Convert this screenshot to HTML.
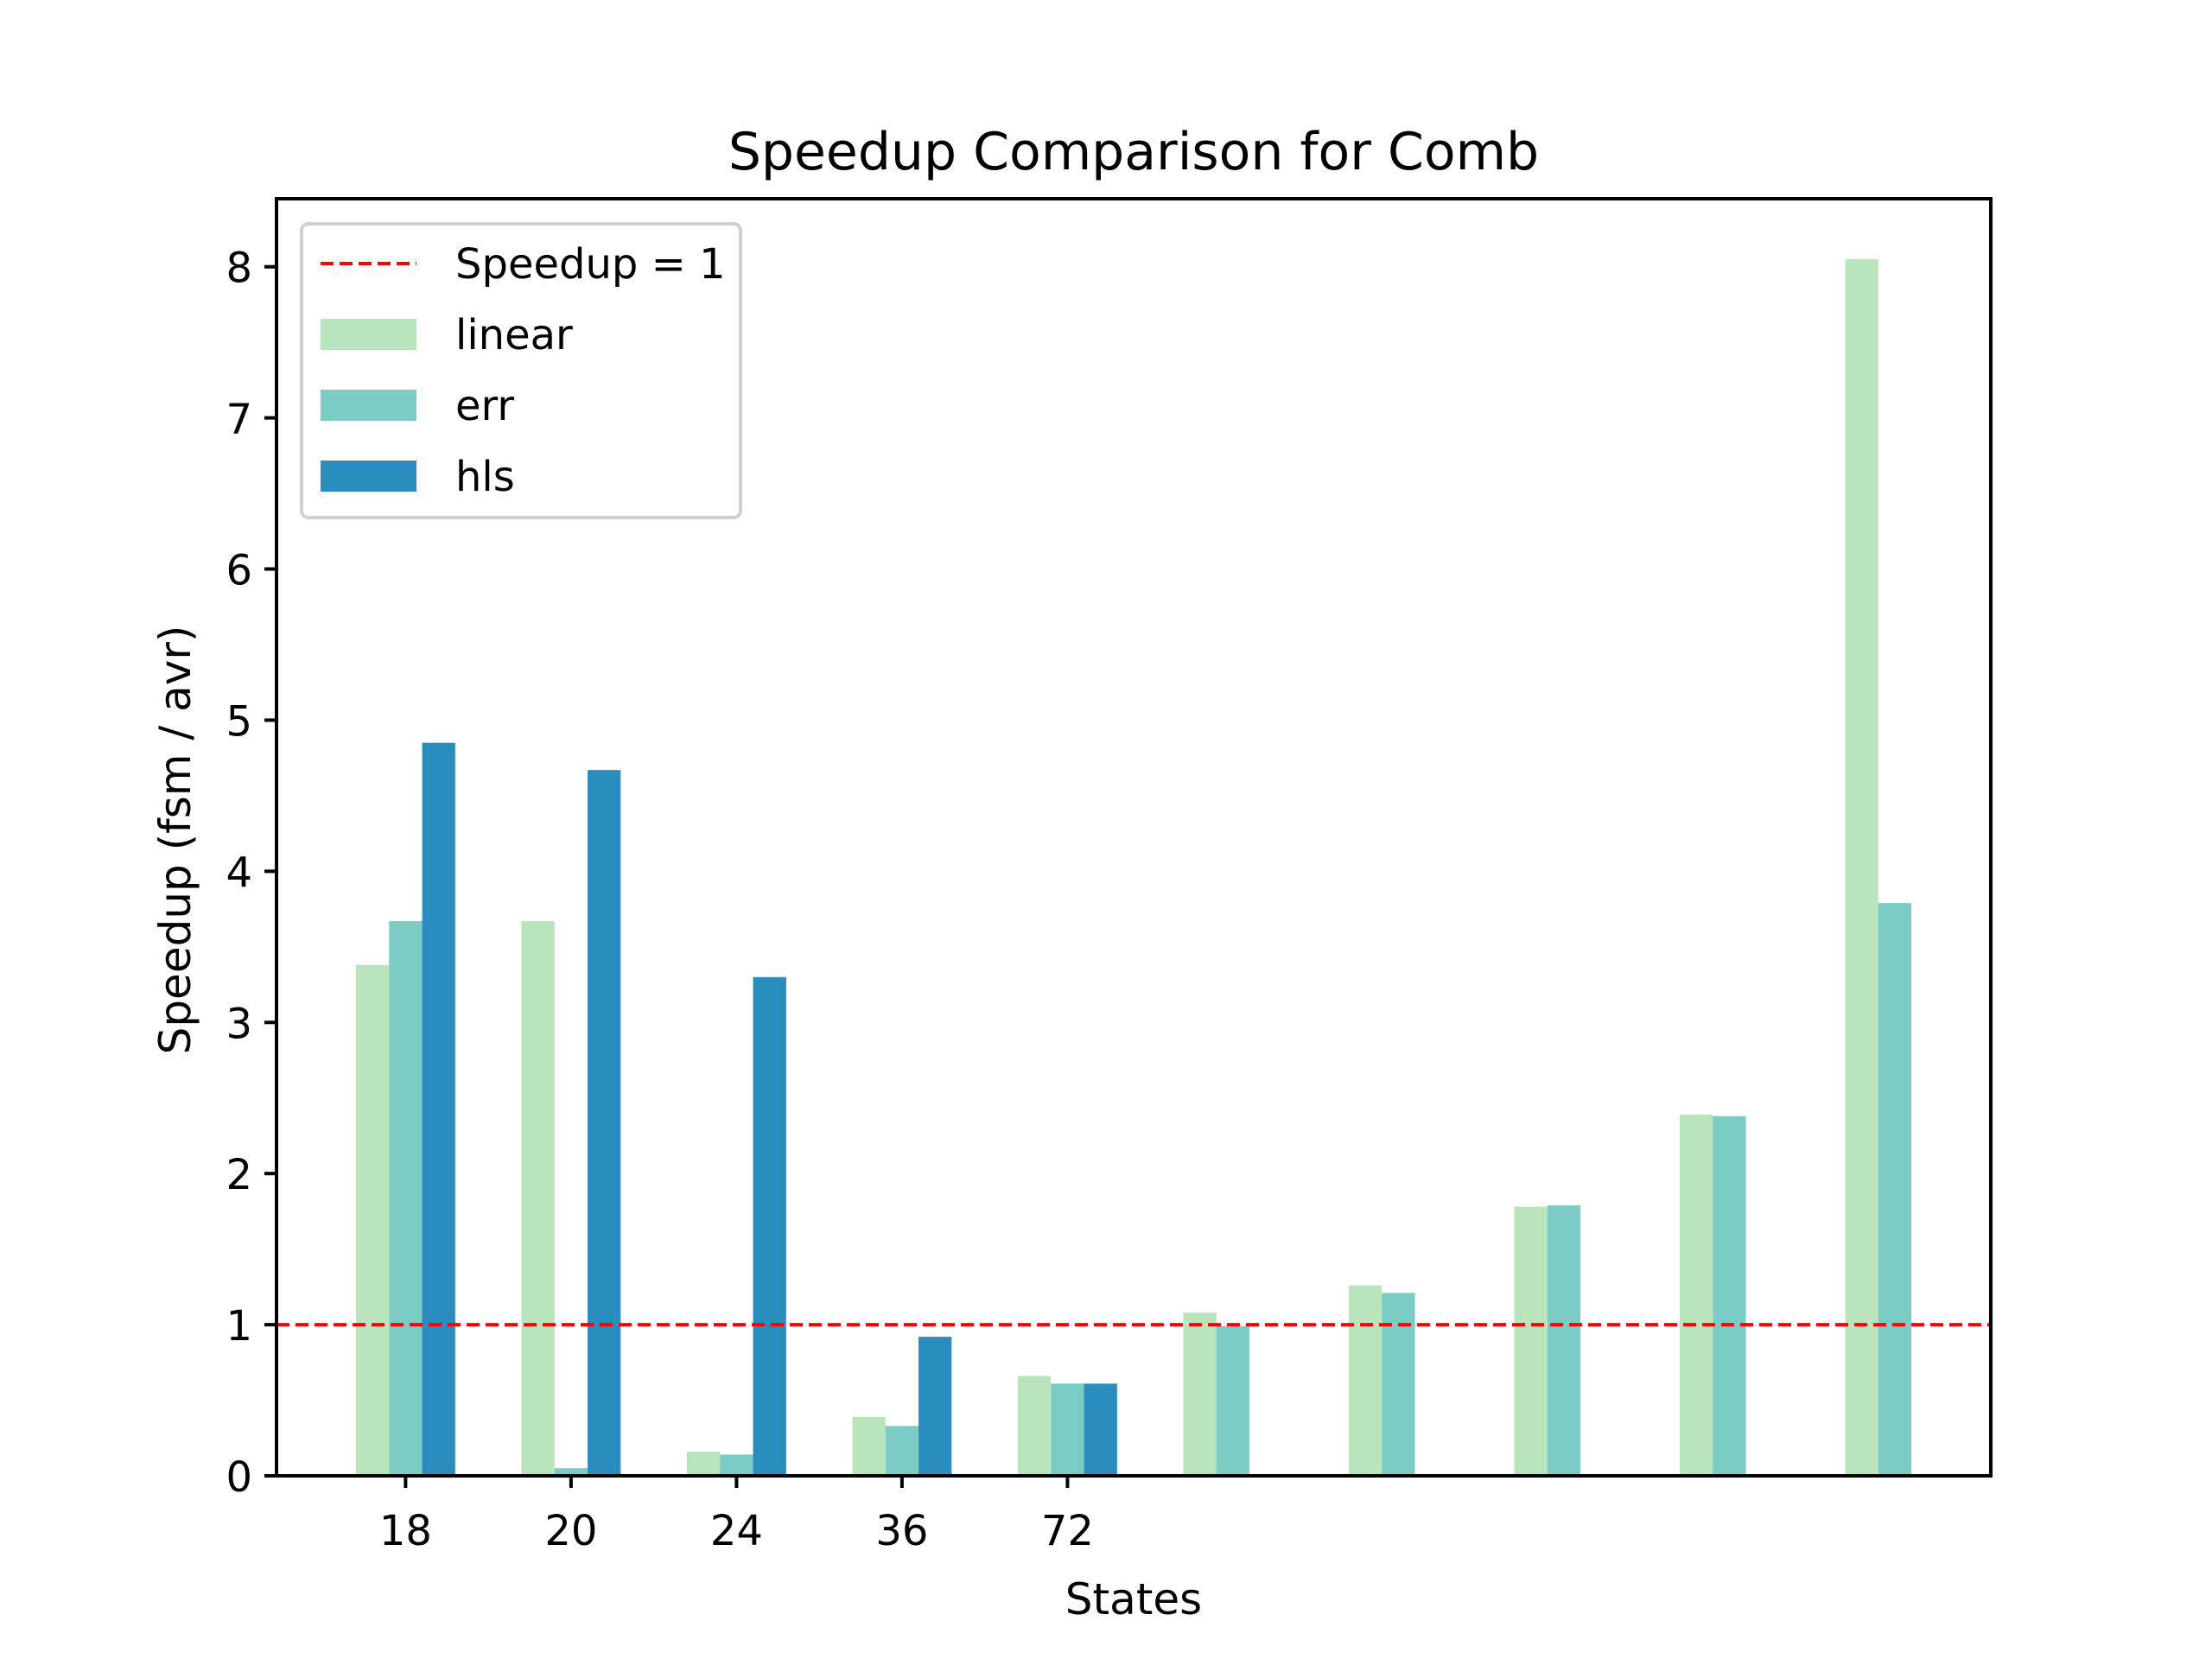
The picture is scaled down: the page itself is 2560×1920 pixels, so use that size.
<!DOCTYPE html>
<html><head><meta charset="utf-8"><style>
body{margin:0;background:#fff}
svg{display:block;font-family:"DejaVu Sans","Liberation Sans",sans-serif}
</style></head><body>
<svg id="chart" width="2560" height="1920" viewBox="0 0 2560 1920" xmlns="http://www.w3.org/2000/svg">
<rect width="2560" height="1920" fill="#fff"/>
<text x="1312" y="196" font-size="60" text-anchor="middle">Speedup Comparison for Comb</text>
<text x="1312" y="1868" font-size="50" text-anchor="middle">States</text>
<text x="0" y="0" font-size="50" text-anchor="middle" transform="translate(220,972) rotate(-90)">Speedup (fsm / avr)</text>
<g id="bars"></g>
<g id="ticks"></g>
<g id="legend"></g>
</svg>
<script>
const categories = ["18","20","24","36","72","","","","",""];
const linearVals = [3.38,3.67,0.16,0.39,0.66,1.08,1.26,1.78,2.39,8.05];
const errVals = [3.67,0.05,0.14,0.33,0.61,0.99,1.21,1.79,2.38,3.79];
const hlsVals = [4.85,4.67,3.30,0.92,0.61,null,null,null,null,null];
const yTicks = [0,1,2,3,4,5,6,7,8];
const refLine = 1;

const NS="http://www.w3.org/2000/svg";
const L=320,R=2304,T=230,B=1708;
const xMin=-0.78,xMax=9.58,yMax=8.45;
const xs=v=>L+(v-xMin)/(xMax-xMin)*(R-L);
const ys=v=>B-v/yMax*(B-T);
function mk(tag,attrs,parent){const e=document.createElementNS(NS,tag);for(const k in attrs)e.setAttribute(k,attrs[k]);parent.appendChild(e);return e;}
const bars=document.getElementById('bars'),ticks=document.getElementById('ticks'),leg=document.getElementById('legend');
const series=[{v:linearVals,c:"#bae4bc",o:-0.2,n:"linear"},{v:errVals,c:"#7bccc4",o:0,n:"err"},{v:hlsVals,c:"#2b8cbe",o:0.2,n:"hls"}];
const bw=0.2;
series.forEach(s=>{s.v.forEach((val,i)=>{if(val==null)return;
const x0=xs(i+s.o-bw/2),x1=xs(i+s.o+bw/2);
const r=mk('rect',{x:x0,y:ys(val),width:x1-x0,height:ys(0)-ys(val),fill:s.c},bars);


});});
const rl=mk('line',{x1:L,x2:R,y1:ys(refLine),y2:ys(refLine),stroke:"#ff0000","stroke-width":4,"stroke-dasharray":"15 7"},bars);


const fr=mk('rect',{x:L,y:T,width:R-L,height:B-T,fill:"none",stroke:"#000","stroke-width":4},ticks);


yTicks.forEach(t=>{const y=ys(t);
mk('line',{x1:L-14,x2:L,y1:y,y2:y,stroke:"#000","stroke-width":4},ticks);
const tx=mk('text',{x:L-28,y:y+18,"font-size":48,"text-anchor":"end"},ticks);tx.textContent=t;


});
categories.forEach((c,i)=>{if(c==="")return;const x=xs(i);
mk('line',{x1:x,x2:x,y1:B,y2:B+14,stroke:"#000","stroke-width":4},ticks);
const tx=mk('text',{x:x,y:B+80,"font-size":48,"text-anchor":"middle"},ticks);tx.textContent=c;


});
const lb=mk('rect',{x:349,y:259,width:508,height:340,rx:8,fill:"#fff",stroke:"#d0d0d0","stroke-width":4},leg);


const ent=[{n:"Speedup = 1",line:true},{n:"linear",c:"#bae4bc"},{n:"err",c:"#7bccc4"},{n:"hls",c:"#2b8cbe"}];
ent.forEach((e,k)=>{const y=305+k*82;
if(e.line)mk('line',{x1:371,x2:482,y1:y,y2:y,stroke:"#ff0000","stroke-width":4,"stroke-dasharray":"15 7"},leg);
else mk('rect',{x:371,y:y-18,width:111,height:36,fill:e.c},leg);
const tx=mk('text',{x:527,y:y+17,"font-size":48},leg);tx.textContent=e.n;


});
</script>
</body></html>
